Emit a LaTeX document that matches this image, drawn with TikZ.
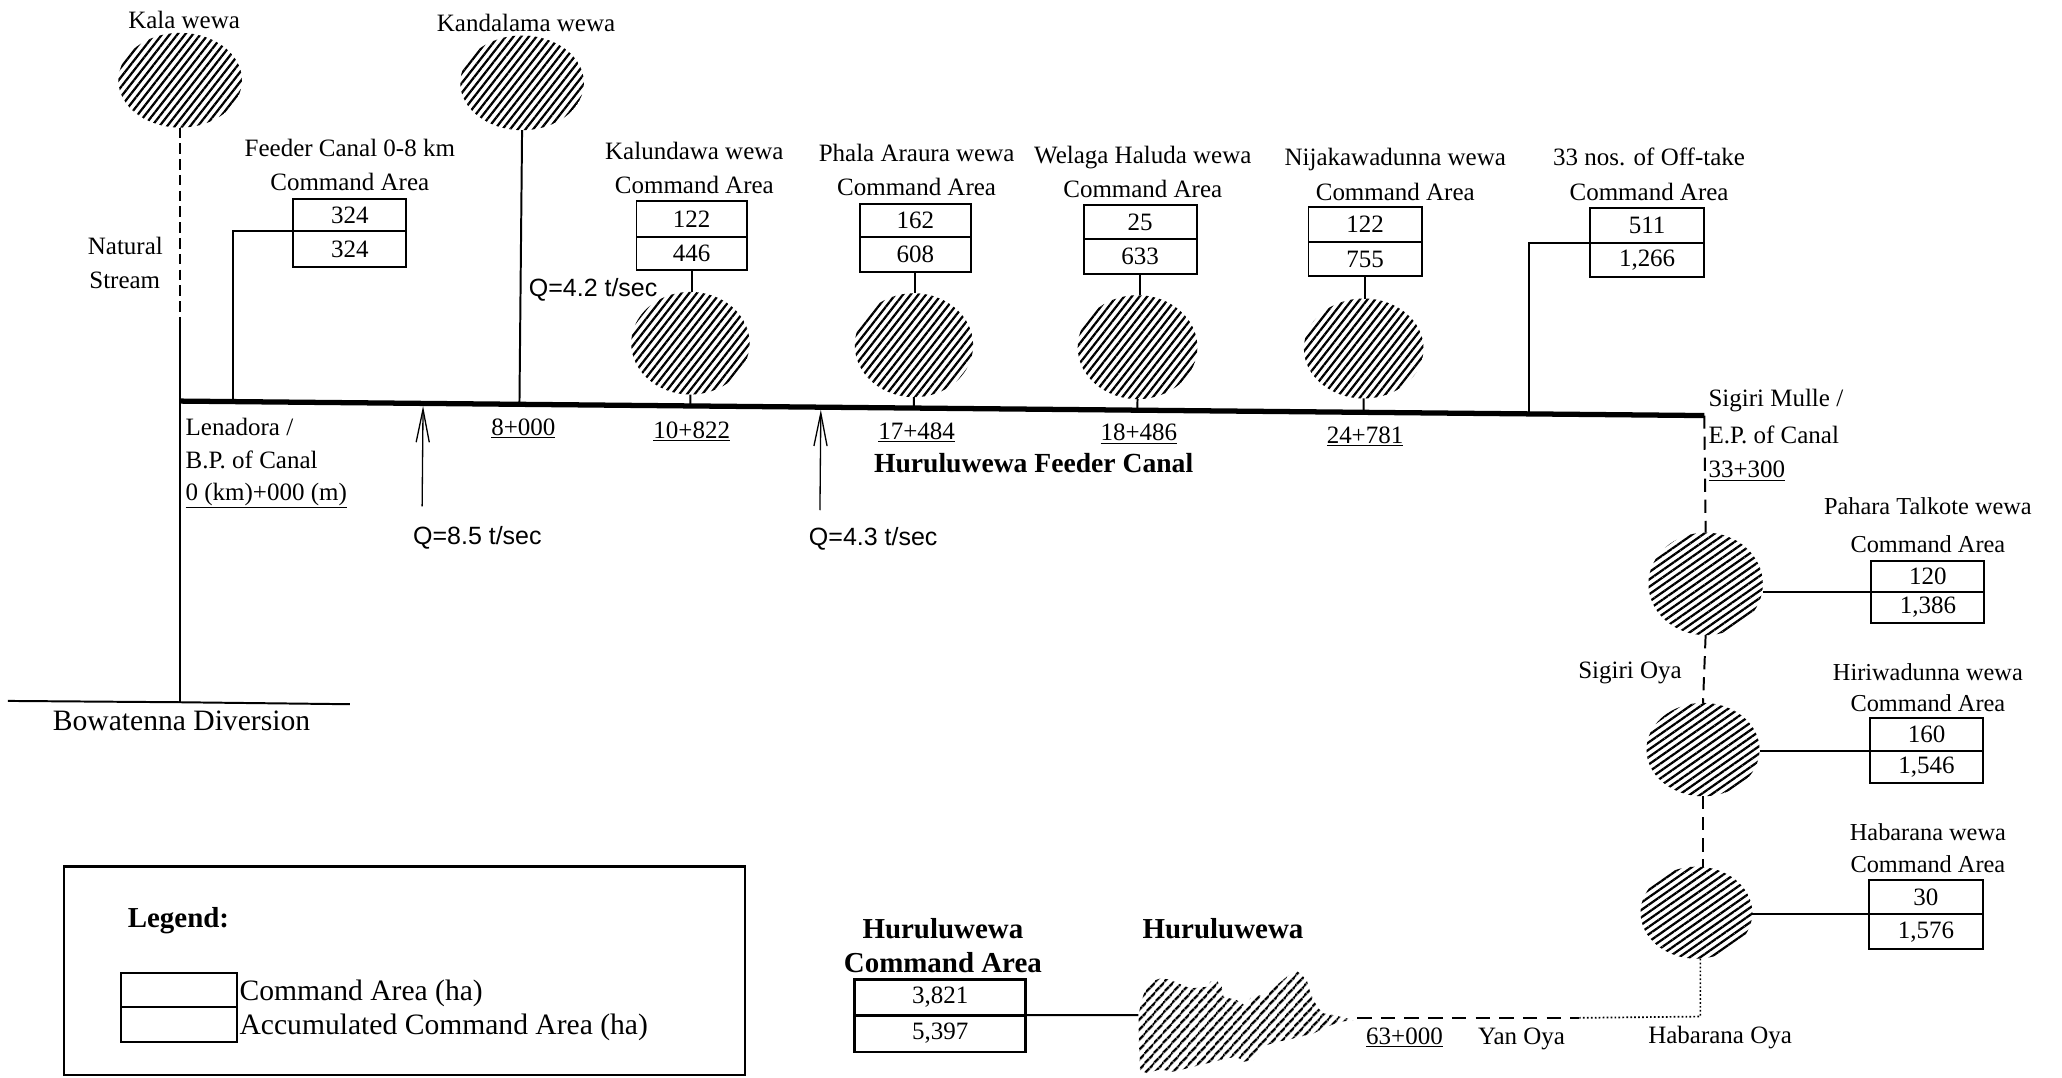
\documentclass[tikz,border=0pt]{standalone}
\usepackage{fontspec}
\setmainfont{Liberation Serif}
\setsansfont{Liberation Sans}
\usetikzlibrary{shapes.geometric,patterns.meta,arrows.meta,calc}
\tikzset{
  txt/.style={inner sep=0pt, font=\fontsize{19}{26}\selectfont},
  ttl/.style={inner sep=0pt, align=center, font=\fontsize{19}{26}\selectfont},
  big/.style={inner sep=0pt, font=\fontsize{22.5}{28}\selectfont},
  qtxt/.style={inner sep=0pt, font=\sffamily\fontsize{19}{24}\selectfont},
  boldtxt/.style={inner sep=0pt, font=\bfseries\fontsize{21}{26}\selectfont},
  numbox/.style={draw, line width=1.5pt, inner sep=0pt, outer sep=0pt, minimum width=86pt, font=\fontsize{19}{22}\selectfont},
  hatchU/.style={ellipse, inner sep=0pt, outer sep=0pt, pattern={Lines[angle=52,distance=4.6pt,line width=1.7pt]}},
  hatchR/.style={ellipse, inner sep=0pt, outer sep=0pt, pattern={Lines[angle=35,distance=4.6pt,line width=1.7pt]}},
  conn/.style={line width=1.5pt},
  canalline/.style={line width=4pt},
  streamL/.style={line width=1.5pt, dash pattern=on 8pt off 4pt},
  streamR/.style={line width=1.5pt, dash pattern=on 10pt off 6pt},
  streamB/.style={line width=1.5pt, dash pattern=on 11pt off 7pt},
  dotL/.style={line width=1.3pt, dash pattern=on 1.3pt off 1.7pt},
  qarrow/.style={line width=1pt, shorten >=2pt, -{Straight Barb[length=25pt,width=10pt,line width=1pt]}},
}
\begin{document}
\begin{tikzpicture}[x=1pt,y=-1pt]
\useasboundingbox (0,0) rectangle (1568,819);
\coordinate (c0) at (137,305);
\coordinate (c1) at (1296,316);
\draw[canalline] (c0) -- (c1);

% Kala wewa / natural stream
\node[txt, anchor=base] (kalaL) at (140,21.3) {Kala wewa};
\node[hatchU, minimum width=94pt, minimum height=72pt] (kalaE) at (137,61) {};
\coordinate (nsj) at (137,248);
\coordinate (bwj) at (137,534);
\draw[streamL] (kalaE.south) -- (nsj);
\draw[conn] (nsj) -- (c0) -- (bwj);
\node[txt, anchor=base east] (natL1) at (124,193.3) {Natural};
\node[txt, anchor=base east] (natL2) at (122,219.3) {Stream};
\coordinate (bwl) at (6,533);
\coordinate (bwr) at (266,535.5);
\draw[conn] (bwl) -- (bwj) -- (bwr);
\node[big, anchor=base] (bwL) at (138,555.5) {Bowatenna Diversion};

% Feeder canal 0-8 km
\node[ttl] (fcT) at (266,125.5) {Feeder Canal 0-8 km\\Command Area};
\node[numbox, minimum height=25pt] (fca) at (266,163.5) {324};
\node[numbox, minimum height=27pt, anchor=north] (fcb) at (fca.south) {324};
\coordinate (fcc) at ($(c0)!(180,0)!(c1)$);
\draw[conn] (fca.south west) -| (fcc);

% Kandalama
\node[txt, anchor=base] (kandL) at (400,24.3) {Kandalama wewa};
\node[hatchU, minimum width=94pt, minimum height=72pt] (kandE) at (397,63) {};
\draw[conn] (kandE.south) -- ($(c0)!(kandE.south)!(c1)$);
\node[qtxt, anchor=base west] (q42) at (402,225.8) {Q=4.2 t/sec};

% Q arrows
\coordinate (q1b) at (321,385);
\draw[qarrow] (q1b) -- ($(c0)!(q1b)!(c1)$);
\node[qtxt, anchor=base] (q85) at (363,413.8) {Q=8.5 t/sec};
\coordinate (q2b) at (623.5,388);
\draw[qarrow] (q2b) -- ($(c0)!(q2b)!(c1)$);
\node[qtxt, anchor=base] (q43) at (664,414.8) {Q=4.3 t/sec};

% labels under canal
\node[txt, anchor=base west] (len1) at (141,330.8) {Lenadora /};
\node[txt, anchor=base west] (len2) at (141,356.3) {B.P. of Canal};
\node[txt, anchor=base west] (len3) at (141,380.3) {\underline{0 (km)+000 (m)}};
\node[txt, anchor=base] (k8) at (398,330.8) {\underline{8+000}};
\node[boldtxt, anchor=base] (hfc) at (786,359) {Huruluwewa Feeder Canal};

% Kalundawa
\node[ttl] (kaT) at (528,128) {Kalundawa wewa\\Command Area};
\node[numbox, minimum width=84pt, minimum height=27pt] (kaa) at (526,166.5) {122};
\node[numbox, minimum width=84pt, minimum height=25pt, anchor=north] (kab) at (kaa.south) {446};
\node[hatchU, minimum width=90pt, minimum height=78pt] (kaE) at (525,261) {};
\draw[conn] (kab.south) -- (kab.south |- kaE.north);
\draw[conn] (kaE.south) -- ($(c0)!(kaE.south)!(c1)$);
\node[txt, anchor=base] (k10) at (526,333.3) {\underline{10+822}};

% Phala Araura
\node[ttl] (phT) at (697,129) {Phala Araura wewa\\Command Area};
\node[numbox, minimum width=84pt, minimum height=25.5pt] (pha) at (696,167.75) {162};
\node[numbox, minimum width=84pt, minimum height=26.5pt, anchor=north] (phb) at (pha.south) {608};
\node[hatchU, minimum width=90pt, minimum height=79pt] (phE) at (695,262.5) {};
\draw[conn] (phb.south) -- (phb.south |- phE.north);
\draw[conn] (phE.south) -- ($(c0)!(phE.south)!(c1)$);
\node[txt, anchor=base] (k17) at (697,334.3) {\underline{17+484}};

% Welaga Haluda
\node[ttl] (weT) at (869,130.5) {Welaga Haluda wewa\\Command Area};
\node[numbox, minimum height=26pt] (wea) at (867,169) {25};
\node[numbox, minimum height=26pt, anchor=north] (web) at (wea.south) {633};
\node[hatchU, minimum width=91pt, minimum height=79pt] (weE) at (865,264) {};
\draw[conn] (web.south) -- (web.south |- weE.north);
\draw[conn] (weE.south) -- ($(c0)!(weE.south)!(c1)$);
\node[txt, anchor=base] (k18) at (866,335.3) {\underline{18+486}};

% Nijakawadunna
\node[ttl, font=\fontsize{19}{27}\selectfont] (niT) at (1061,132.5) {Nijakawadunna wewa\\Command Area};
\node[numbox, minimum height=26.5pt] (nia) at (1038,170.75) {122};
\node[numbox, minimum height=26pt, anchor=north] (nib) at (nia.south) {755};
\node[hatchU, minimum width=91pt, minimum height=76pt] (niE) at (1037,265) {};
\draw[conn] (nib.south) -- (nib.south |- niE.north);
\draw[conn] (niE.south) -- ($(c0)!(niE.south)!(c1)$);
\node[txt, anchor=base] (k24) at (1038,337.3) {\underline{24+781}};

% Off-takes
\node[ttl, font=\fontsize{19}{27}\selectfont] (ofT) at (1254,132.5) {33 nos. of Off-take\\Command Area};
\node[numbox, minimum width=87pt, minimum height=27pt] (ofa) at (1252.5,171.5) {511};
\node[numbox, minimum width=87pt, minimum height=25.5pt, anchor=north] (ofb) at (ofa.south) {1,266};
\coordinate (ofc) at ($(c0)!(1166,0)!(c1)$);
\draw[conn] (ofa.south west) -| (ofc);

% Sigiri Mulle
\node[txt, anchor=base west] (sm1) at (1299,309.3) {Sigiri Mulle /};
\node[txt, anchor=base west] (sm2) at (1299,337.3) {E.P. of Canal};
\node[txt, anchor=base west] (sm3) at (1299,363.3) {\underline{33+300}};

% Pahara Talkote
\node[ttl, font=\fontsize{18.5}{29}\selectfont] (paT) at (1466,399.5) {Pahara Talkote wewa\\Command Area};
\node[numbox, minimum height=23.5pt] (paa) at (1466,438.25) {120};
\node[numbox, minimum height=24pt, anchor=north] (pab) at (paa.south) {1,386};
\node[hatchR, minimum width=87pt, minimum height=78pt] (paE) at (1297,444) {};
\draw[conn] (paE.east |- paa.south west) -- (paa.south west);

% Hiriwadunna
\node[ttl, font=\fontsize{18.5}{24}\selectfont] (hiT) at (1466,523) {Hiriwadunna wewa\\Command Area};
\node[numbox, minimum height=25pt] (hia) at (1465,558.5) {160};
\node[numbox, minimum height=24.5pt, anchor=north] (hib) at (hia.south) {1,546};
\node[hatchR, minimum width=86pt, minimum height=71pt] (hiE) at (1295,570) {};
\draw[conn] (hiE.east |- hia.south west) -- (hia.south west);
\node[txt, anchor=base] (soL) at (1239.5,516.3) {Sigiri Oya};

% Habarana
\node[ttl, font=\fontsize{18.5}{24}\selectfont] (hbT) at (1466,645) {Habarana wewa\\Command Area};
\node[numbox, minimum width=87pt, minimum height=26pt] (hba) at (1464.5,682) {30};
\node[numbox, minimum width=87pt, minimum height=27pt, anchor=north] (hbb) at (hba.south) {1,576};
\node[hatchR, minimum width=85pt, minimum height=70pt] (hbE) at (1290,694) {};
\draw[conn] (hbE.east |- hba.south west) -- (hba.south west);

% streams on right
\draw[streamR] (c1) -- (paE.north);
\draw[streamR] (paE.south) -- (hiE.north);
\draw[streamR] (hiE.south) -- (hiE.south |- hbE.north);
\coordinate (hbo) at (1293,773);
\coordinate (ydj) at (1201,774);
\draw[dotL] (hbE.south -| hbo) -- (hbo) -- (ydj);
\node[txt, anchor=base] (hoL) at (1308,793.3) {Habarana Oya};

% Huruluwewa reservoir
\path[pattern={Lines[angle=48,distance=5.4pt,line width=2pt]}]
 (865.7,771.9) -- (868.2,760.5) -- (872.0,749.1) -- (875.8,746.5) -- (882.1,744.0) -- (889.7,744.8)
 -- (897.4,748.3) -- (905.0,751.6) -- (918.9,750.3) -- (920.2,746.5) -- (925.2,745.8) -- (929.0,750.3)
 -- (930.3,757.9) -- (940.4,760.5) -- (948.1,765.5) -- (950.6,759.2) -- (955.7,755.4) -- (959.5,757.9)
 -- (965.8,751.6) -- (970.9,749.1) -- (978.5,742.7) -- (986.1,738.2) -- (989.9,741.5) -- (993.7,745.3)
 -- (996.2,754.1) -- (998.8,760.5) -- (1002.6,766.8) -- (1006.4,770.6) -- (1014.0,771.9) -- (1021.6,773.7)
 -- (1029.2,775.7) -- (1019.0,777.0) -- (1008.9,780.8) -- (1003.8,783.3) -- (998.8,785.8) -- (988.6,788.4)
 -- (978.5,790.9) -- (970.9,792.2) -- (963.3,794.7) -- (958.2,799.8) -- (953.1,806.1) -- (945.5,807.4)
 -- (940.4,803.6) -- (932.8,804.8) -- (922.7,807.4) -- (912.6,809.9) -- (902.5,812.4) -- (892.3,815.0)
 -- (882.1,813.2) -- (872.0,816.2) -- (866.9,813.7) -- (866.4,801.0) -- (865.9,785.8) -- cycle;
\coordinate (blobL) at (865.7,771.9);
\coordinate (blobR) at (1032,774);
\draw[streamB] (blobR) -- (ydj);
\node[txt, anchor=base] (k63) at (1068,794.3) {\underline{63+000}};
\node[txt, anchor=base] (yoL) at (1157,794.3) {Yan Oya};
\node[boldtxt, font=\bfseries\fontsize{22}{26}\selectfont, anchor=base] (hwL) at (930,713.5) {Huruluwewa};

% Huruluwewa command area
\node[boldtxt, align=center, font=\bfseries\fontsize{22}{25.5}\selectfont] (huT) at (717,719) {Huruluwewa\\Command Area};
\node[numbox, line width=2pt, minimum width=130pt, minimum height=27pt] (hua) at (715,758.5) {3,821};
\node[numbox, line width=2pt, minimum width=130pt, minimum height=28pt, anchor=north] (hub) at (hua.south) {5,397};
\draw[conn] (hua.south east) -- (blobL);

% Legend
\node[draw, line width=1.8pt, inner sep=0pt, outer sep=0pt, minimum width=518pt, minimum height=158.5pt] (legend) at (307.5,738.25) {};
\node[boldtxt, font=\bfseries\fontsize{22}{26}\selectfont, anchor=base west] (legT) at (97,705.5) {Legend:};
\node[numbox, minimum width=88pt, minimum height=26pt] (lga) at (136,753) {};
\node[numbox, minimum width=88pt, minimum height=26pt, anchor=north] (lgb) at (lga.south) {};
\node[big, anchor=base west] (lg1) at (182,760.5) {Command Area (ha)};
\node[big, anchor=base west] (lg2) at (182,787) {Accumulated Command Area (ha)};
\end{tikzpicture}
\end{document}
